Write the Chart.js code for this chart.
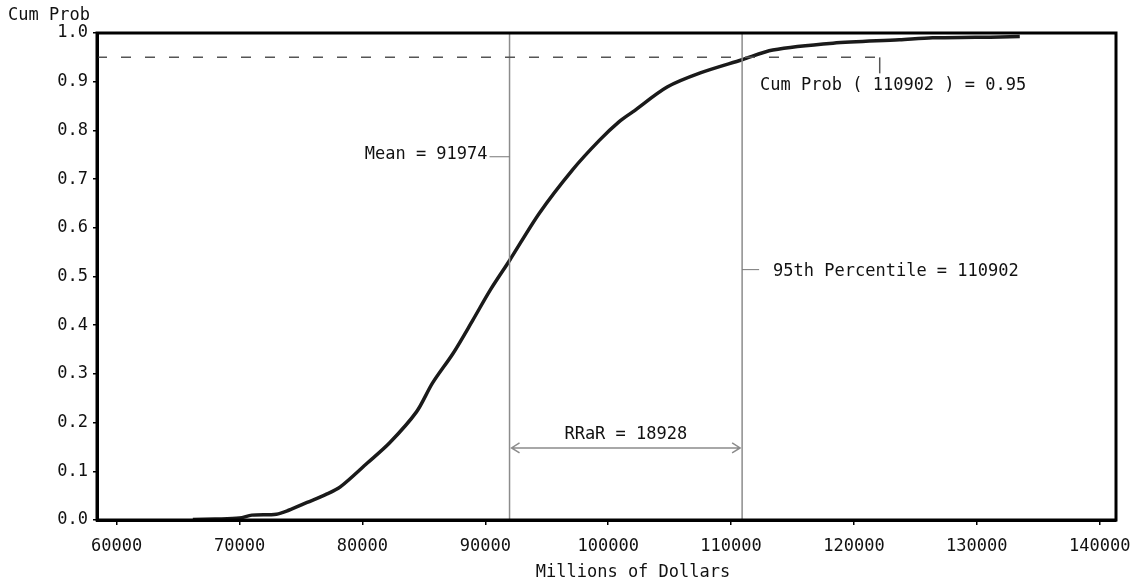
<!DOCTYPE html>
<html>
<head>
<meta charset="utf-8">
<script src="https://cdn.jsdelivr.net/npm/chart.js@4.4.1/dist/chart.umd.min.js"></script>
<style>
  html, body { margin: 0; padding: 0; background: #fff; }
  #wrap { width: 1132px; height: 582px; }
</style>
</head>
<body>
<div id="wrap"><canvas id="cdfChart" width="1132" height="582"></canvas></div>
<script>
// values
const dollars = [66200, 68000, 70000, 71000, 73000, 74000, 75500, 77000, 78200, 80400,
                 82200, 84400, 85700, 87400, 89000, 90400, 92000, 94400, 97100, 99300,
                 100900, 102000, 104800, 107500, 110900, 113400, 118300, 123700, 126400, 131900, 133500];
const cumProb = [0.001, 0.002, 0.004, 0.010, 0.012, 0.020, 0.036, 0.052, 0.068, 0.117,
                 0.158, 0.222, 0.281, 0.343, 0.411, 0.472, 0.534, 0.630, 0.719, 0.780,
                 0.818, 0.838, 0.889, 0.918, 0.945, 0.965, 0.979, 0.986, 0.990, 0.992, 0.993];
const xTicks = [60000, 70000, 80000, 90000, 100000, 110000, 120000, 130000, 140000];
const yTicks = [0, 0.1, 0.2, 0.3, 0.4, 0.5, 0.6, 0.7, 0.8, 0.9, 1.0];

const meanValue = 91974;
const pctValue = 110902;
const pctLevel = 0.95;
const rrar = 18928;

const FONT = '"DejaVu Sans Mono", monospace';

const annotations = {
    id: 'annotations',
    afterDatasetsDraw(chart) {
        const ctx = chart.ctx;
        const xs = chart.scales.x, ys = chart.scales.y;
        const area = chart.chartArea;
        const mx = xs.getPixelForValue(meanValue);
        const px = xs.getPixelForValue(pctValue);
        const py = ys.getPixelForValue(pctLevel);
        ctx.save();

        // vertical markers
        ctx.strokeStyle = '#8c8c8c';
        ctx.lineWidth = 1.5;
        [mx, px].forEach(x => {
            ctx.beginPath();
            ctx.moveTo(x, area.top);
            ctx.lineTo(x, area.bottom);
            ctx.stroke();
        });

        // 0.95 dashed line and its leader
        const endX = xs.getPixelForValue(122100);
        ctx.strokeStyle = '#555';
        ctx.setLineDash([10, 14]);
        ctx.beginPath();
        ctx.moveTo(area.left, py);
        ctx.lineTo(endX, py);
        ctx.stroke();
        ctx.setLineDash([]);
        ctx.beginPath();
        ctx.moveTo(endX, py);
        ctx.lineTo(endX, py + 16);
        ctx.stroke();

        ctx.fillStyle = '#111';
        ctx.font = '17px ' + FONT;
        ctx.textBaseline = 'middle';
        ctx.textAlign = 'left';
        ctx.fillText('Cum Prob ( ' + pctValue + ' ) = ' + pctLevel.toFixed(2), px + 18, py + 28);

        // mean label
        const my = ys.getPixelForValue(0.75);
        ctx.strokeStyle = '#777';
        ctx.lineWidth = 1;
        ctx.beginPath();
        ctx.moveTo(mx - 20, my + 2);
        ctx.lineTo(mx, my + 2);
        ctx.stroke();
        ctx.textAlign = 'right';
        ctx.fillText('Mean = ' + meanValue, mx - 22, my);

        // percentile label
        const ly = ys.getPixelForValue(0.51);
        ctx.beginPath();
        ctx.moveTo(px, ly - 2);
        ctx.lineTo(px + 17, ly - 2);
        ctx.stroke();
        ctx.textAlign = 'left';
        ctx.fillText('95th Percentile = ' + pctValue, px + 31, ly);

        // RRaR double arrow
        const ay = ys.getPixelForValue(0.148);
        ctx.strokeStyle = '#8c8c8c';
        ctx.lineWidth = 1.5;
        ctx.beginPath();
        ctx.moveTo(mx + 2, ay);
        ctx.lineTo(px - 2, ay);
        ctx.moveTo(mx + 10, ay - 5);
        ctx.lineTo(mx + 2, ay);
        ctx.lineTo(mx + 10, ay + 5);
        ctx.moveTo(px - 10, ay - 5);
        ctx.lineTo(px - 2, ay);
        ctx.lineTo(px - 10, ay + 5);
        ctx.stroke();
        ctx.textAlign = 'center';
        ctx.fillText('RRaR = ' + rrar, (mx + px) / 2, ay - 13);

        // frame
        ctx.strokeStyle = '#000';
        ctx.lineWidth = 3;
        ctx.strokeRect(area.left, area.top, area.right - area.left, area.bottom - area.top);

        // axis titles
        ctx.textAlign = 'left';
        ctx.fillText('Cum Prob', 8, 16);
        ctx.textAlign = 'center';
        ctx.fillText('Millions of Dollars', 633, 573);
        ctx.restore();
    }
};

const cdfCtx = document.getElementById('cdfChart').getContext('2d');
const cdfChart = new Chart(cdfCtx, {
    type: 'line',
    data: {
        datasets: [{
            label: 'Cum Prob',
            data: dollars.map((d, i) => ({ x: d, y: cumProb[i] })),
            borderColor: '#1a1a1a',
            borderWidth: 3.5,
            pointRadius: 0,
            tension: 0.3,
            fill: false
        }]
    },
    options: {
        responsive: false,
        animation: false,
        layout: { padding: { top: 33, right: 16, left: 0, bottom: 0 } },
        plugins: {
            legend: { display: false },
            tooltip: { enabled: false }
        },
        scales: {
            x: {
                type: 'linear',
                min: 58400,
                max: 141330,
                afterBuildTicks: s => { s.ticks = xTicks.map(v => ({ value: v })); },
                afterFit: s => { s.height = 62; s.paddingLeft = 0; s.paddingRight = 0; },
                grid: { drawOnChartArea: false, tickLength: 5, color: '#000', lineWidth: 1.5 },
                border: { color: '#000', width: 3 },
                ticks: {
                    color: '#111',
                    font: { family: FONT, size: 17 },
                    padding: 11,
                    maxRotation: 0,
                    callback: v => String(v)
                }
            },
            y: {
                min: 0,
                max: 1,
                afterBuildTicks: s => { s.ticks = yTicks.map(v => ({ value: v })); },
                afterFit: s => { s.width = 97; s.paddingTop = 0; s.paddingBottom = 0; },
                grid: { drawOnChartArea: false, tickLength: 4, color: '#000', lineWidth: 1.5 },
                border: { color: '#000', width: 3 },
                ticks: {
                    color: '#111',
                    font: { family: FONT, size: 17 },
                    padding: 5,
                    callback: v => v.toFixed(1)
                }
            }
        }
    },
    plugins: [annotations]
});
</script>
</body>
</html>
